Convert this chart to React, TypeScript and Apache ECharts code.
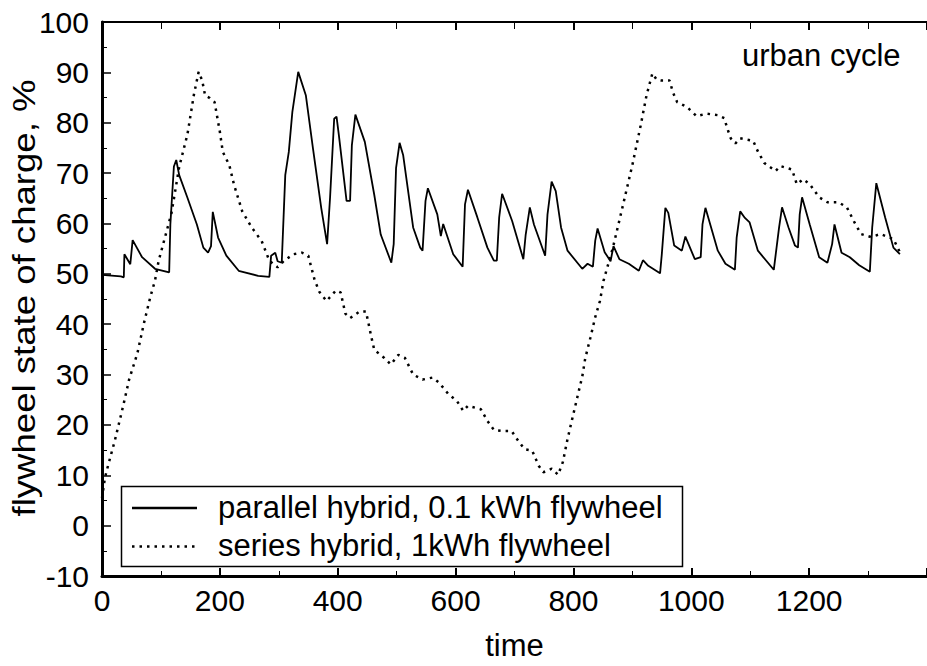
import React, { useEffect, useRef } from "react";
import * as echarts from "echarts";

const FONT = "'Liberation Sans', Arial, Helvetica, sans-serif";

const seriesNames = ["parallel hybrid, 0.1 kWh flywheel", "series hybrid, 1kWh flywheel"];

const parallelTime = [
  0, 32, 37, 38, 48, 52, 68, 90, 114, 116, 122, 126, 131, 145, 161, 172, 180, 185, 188, 197, 211, 232, 265, 284,
  287, 294, 298, 305, 311, 317, 323, 333, 346, 358, 372, 382, 387, 394, 398, 402, 415, 421, 424, 430, 446, 462,
  473, 491, 495, 499, 505, 511, 528, 540, 544, 549, 553, 569, 575, 579, 596, 612, 616, 621, 637, 654, 665, 670,
  674, 679, 696, 715, 719, 726, 733, 752, 756, 763, 770, 779, 790, 815, 824, 833, 837, 841, 853, 863, 868, 878,
  894, 911, 918, 927, 947, 950, 956, 961, 971, 984, 990, 1006, 1016, 1019, 1024, 1045, 1058, 1074, 1077, 1083,
  1091, 1099, 1113, 1140, 1149, 1154, 1165, 1176, 1181, 1184, 1188, 1201, 1217, 1231, 1239, 1243, 1255, 1269,
  1285, 1303, 1307, 1314, 1329, 1343, 1354,
];
const parallelSoc = [
  49.8, 49.5, 49.3, 53.9, 51.9, 56.7, 53.3, 51.0, 50.3, 59.8, 71.3, 72.6, 69.6, 65.1, 59.8, 55.2, 54.2, 55.5, 62.3,
  57.2, 53.6, 50.6, 49.6, 49.4, 53.6, 54.2, 52.5, 52.2, 69.6, 74.2, 82.1, 90.1, 85.4, 74.9, 63.1, 55.9, 65.1, 80.8,
  81.2, 77.5, 64.5, 64.5, 75.5, 81.6, 76.2, 65.7, 57.8, 52.2, 55.9, 71.0, 76.0, 73.6, 59.2, 55.2, 54.6, 64.5, 67.0,
  61.8, 57.5, 59.9, 53.9, 51.4, 63.8, 66.7, 61.2, 55.2, 52.6, 52.6, 61.2, 65.9, 60.5, 52.9, 57.8, 63.2, 59.8, 53.6,
  61.8, 68.3, 66.4, 59.2, 54.6, 51.0, 52.0, 51.4, 56.6, 59.0, 54.3, 52.5, 55.5, 52.9, 52.0, 50.6, 52.7, 51.6, 50.1,
  53.9, 63.1, 62.1, 55.6, 54.6, 57.4, 52.9, 53.3, 59.8, 63.1, 54.6, 52.0, 50.8, 57.2, 62.4, 61.1, 60.2, 54.6, 50.8,
  59.2, 63.2, 59.2, 55.6, 55.2, 61.8, 65.2, 59.8, 53.3, 52.2, 55.9, 59.8, 54.2, 53.3, 51.7, 50.4, 59.2, 68.0, 61.2,
  55.2, 53.9,
];

const seriesTime = [
  0, 5, 10, 22, 36, 46, 60, 71, 82, 90, 96, 118, 131, 145, 156, 164, 170, 175, 183, 191, 200, 205, 216, 224, 238,
  254, 271, 284, 298, 309, 325, 339, 350, 361, 369, 381, 397, 405, 413, 421, 437, 448, 457, 462, 479, 490, 503,
  514, 528, 544, 561, 572, 588, 602, 613, 621, 643, 654, 665, 681, 695, 706, 717, 730, 741, 749, 763, 774, 782,
  790, 799, 807, 815, 820, 829, 837, 845, 851, 867, 883, 900, 914, 924, 934, 941, 949, 963, 969, 976, 993, 1009,
  1026, 1045, 1056, 1061, 1067, 1075, 1083, 1105, 1113, 1124, 1143, 1151, 1171, 1179, 1190, 1201, 1217, 1231,
  1250, 1264, 1277, 1288, 1305, 1321, 1343, 1354,
];
const seriesSoc = [
  5.5, 9.5, 11.8, 17.0, 23.8, 29.0, 34.2, 40.1, 45.4, 48.7, 52.5, 62.1, 71.2, 77.7, 85.6, 90.1, 88.4, 85.4, 84.9,
  84.1, 78.2, 74.2, 71.6, 67.7, 62.4, 59.2, 56.5, 52.6, 51.3, 52.6, 53.9, 54.2, 53.6, 48.7, 46.4, 44.6, 46.7, 46.3,
  42.1, 41.2, 42.5, 42.5, 37.5, 34.9, 33.3, 32.0, 33.9, 33.3, 30.0, 29.0, 29.4, 28.4, 26.1, 24.8, 22.8, 23.8, 23.1,
  20.8, 19.0, 18.8, 18.8, 16.9, 15.2, 14.9, 11.9, 10.6, 11.3, 10.1, 12.6, 17.2, 21.7, 25.7, 29.6, 33.2, 37.4, 41.4,
  44.6, 48.6, 55.2, 63.1, 71.6, 79.4, 85.4, 89.8, 88.6, 88.4, 88.4, 86.0, 84.1, 83.1, 81.3, 81.8, 81.5, 80.9, 78.9,
  76.9, 75.9, 76.9, 76.4, 74.3, 72.0, 70.4, 71.4, 70.7, 67.8, 68.8, 67.8, 65.2, 64.2, 64.2, 63.2, 60.2, 57.9, 57.3,
  57.9, 56.9, 54.3,
];

const xMin = 0;
const xMax = 1400;
const xInterval = 200;
const yMin = -10;
const yMax = 100;
const yInterval = 10;

const yAxisTitle = "flywheel state of charge, %";
const xAxisTitle = "time";
const annotation = "urban cycle";

export default function App() {
  const ref = useRef<HTMLDivElement>(null);

  useEffect(() => {
    if (!ref.current) return;
    const chart = echarts.init(ref.current, undefined, { renderer: "svg" });

    const parallelData = parallelTime.map((t, i) => [t, parallelSoc[i]]);
    const seriesData = seriesTime.map((t, i) => [t, seriesSoc[i]]);

    const baseX = {
      type: "value" as const,
      min: xMin,
      max: xMax,
      interval: xInterval,
      splitLine: { show: false },
    };

    const txt = (text: string, x: number, y: number, extra: any = {}) => ({
      type: "text",
      x,
      y,
      ...extra,
      style: {
        text,
        fontSize: 31,
        fontFamily: FONT,
        fill: "#000",
        align: extra.align || "left",
        verticalAlign: "middle",
        textAlign: extra.align || "left",
        textVerticalAlign: "middle",
      },
    });

    chart.setOption({
      animation: false,
      backgroundColor: "#ffffff",
      grid: { left: 102, top: 22, right: -28, bottom: 84.5, containLabel: false },
      xAxis: [
        {
          ...baseX,
          position: "bottom",
          axisLine: { show: true, onZero: false, lineStyle: { color: "#000", width: 3 } },
          axisTick: { show: true, inside: true, length: 8, lineStyle: { color: "#000", width: 2 } },
          minorTick: { show: true, splitNumber: 2, length: 5, lineStyle: { color: "#000", width: 1 } },
          axisLabel: {
            show: true,
            color: "#000",
            fontSize: 30,
            fontFamily: FONT,
            margin: 9,
            showMaxLabel: false,
            formatter: (v: number) => String(v),
          },
          name: xAxisTitle,
          nameLocation: "middle",
          nameGap: 54,
          nameTextStyle: { color: "#000", fontSize: 31, fontFamily: FONT },
        },
        {
          ...baseX,
          position: "top",
          axisLine: { show: true, onZero: false, lineStyle: { color: "#000", width: 2 } },
          axisTick: { show: true, inside: true, length: 8, lineStyle: { color: "#000", width: 2 } },
          minorTick: { show: true, splitNumber: 2, length: 7, lineStyle: { color: "#000", width: 1 } },
          axisLabel: { show: false },
        },
      ],
      yAxis: {
        type: "value",
        min: yMin,
        max: yMax,
        interval: yInterval,
        splitLine: { show: false },
        axisLine: { show: true, onZero: false, lineStyle: { color: "#000", width: 3 } },
        axisTick: { show: true, inside: true, length: 9, lineStyle: { color: "#000", width: 1.5 } },
        minorTick: { show: true, splitNumber: 2, length: 5, lineStyle: { color: "#000", width: 1 } },
        axisLabel: {
          show: true,
          color: "#000",
          fontSize: 30,
          fontFamily: FONT,
          margin: 13,
          formatter: (v: number) => String(v),
        },
      },
      series: [
        {
          name: seriesNames[0],
          type: "line",
          xAxisIndex: 0,
          data: parallelData,
          showSymbol: false,
          symbol: "none",
          lineStyle: { color: "#000", width: 1.8, type: "solid" },
          z: 3,
        },
        {
          name: seriesNames[1],
          type: "line",
          xAxisIndex: 0,
          data: seriesData,
          showSymbol: false,
          symbol: "none",
          lineStyle: { color: "#000", width: 2.5, type: [2.5, 5] },
          z: 2,
        },
      ],
      graphic: [
        { ...txt(yAxisTitle, 24, 298, { rotation: Math.PI / 2, scaleX: 1.18, align: "center" }), z: 10 },
        { ...txt(annotation, 742, 55), z: 10 },
        {
          type: "group",
          z: 20,
          children: [
            {
              type: "rect",
              shape: { x: 121.5, y: 486.5, width: 561, height: 80 },
              style: { fill: "#fff", stroke: "#000", lineWidth: 1.5 },
            },
            {
              type: "line",
              shape: { x1: 132, y1: 508, x2: 197, y2: 508 },
              style: { stroke: "#000", lineWidth: 2.5 },
            },
            {
              type: "line",
              shape: { x1: 132, y1: 546.5, x2: 197, y2: 546.5 },
              style: { stroke: "#000", lineWidth: 2.5, lineDash: [2.5, 5] },
            },
            txt(seriesNames[0], 218, 507),
            txt(seriesNames[1], 218, 545),
          ],
        },
      ],
    });

    return () => {
      chart.dispose();
    };
  }, []);

  return (
    <div
      ref={ref}
      style={{ position: "fixed", left: 0, top: 0, width: 927, height: 666, background: "#fff" }}
    />
  );
}
